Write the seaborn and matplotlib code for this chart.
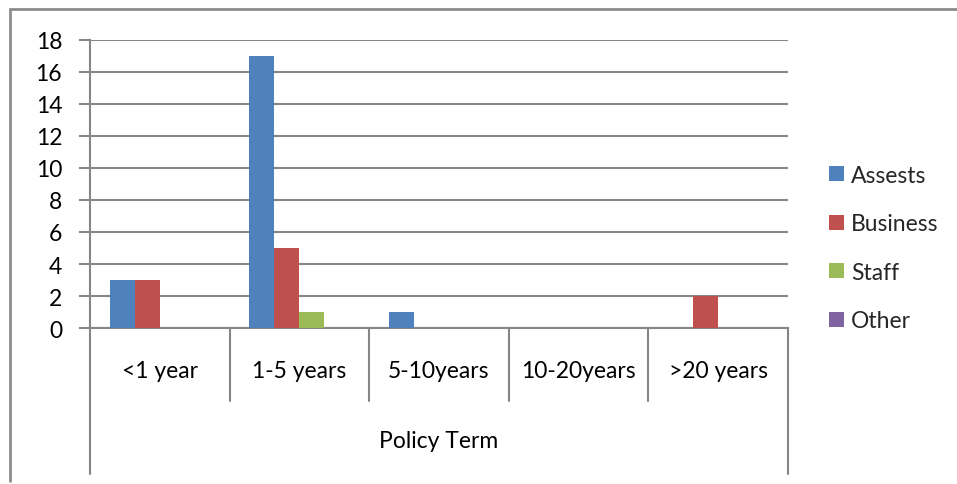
import matplotlib
matplotlib.use("Agg")
import matplotlib.pyplot as plt
from matplotlib.lines import Line2D
import seaborn as sns
import pandas as pd

categories = ["<1 year", "1-5 years", "5-10years", "10-20years", ">20 years"]
series = ["Assests", "Business", "Staff", "Other"]
assests = [3, 17, 1, 0, 0]
business = [3, 5, 0, 0, 2]
staff = [0, 1, 0, 0, 0]
other = [0, 0, 0, 0, 0]
y_ticks = [0, 2, 4, 6, 8, 10, 12, 14, 16, 18]
x_title = "Policy Term"

colors = ["#4F81BD", "#C0504D", "#9BBB59", "#8064A2"]
grid_gray = "#868686"

rows = []
for name, vals in zip(series, [assests, business, staff, other]):
    for cat, v in zip(categories, vals):
        rows.append({"term": cat, "series": name, "count": v})
df = pd.DataFrame(rows)

sns.set_theme(style="white")
plt.rcParams["font.family"] = ["Lato", "DejaVu Sans"]
FS = 16.5

W, H = 957, 485
fig = plt.figure(figsize=(W / 100, H / 100), dpi=100)
left, right, top, bottom = 90, 788, 41, 329
ax = fig.add_axes([left / W, 1 - bottom / H, (right - left) / W, (bottom - top) / H])

sns.barplot(data=df, x="term", y="count", hue="series", order=categories,
            hue_order=series, palette=colors, width=0.716, linewidth=0,
            saturation=1, ax=ax, legend=True, zorder=3)

ax.set_ylim(0, 18)
ax.set_xlim(-0.5, len(categories) - 0.5)
ax.set_yticks(y_ticks)
ax.set_yticklabels([str(t) for t in y_ticks], fontsize=FS, color="black")
ax.yaxis.grid(True, color=grid_gray, linewidth=1.5, zorder=0)
ax.set_axisbelow(True)
ax.tick_params(axis="y", length=8, width=1.5, color=grid_gray, pad=12, left=True)
ax.tick_params(axis="x", length=0, labelbottom=False)
for s in ["top", "right"]:
    ax.spines[s].set_visible(False)
for s in ["left", "bottom"]:
    ax.spines[s].set_color(grid_gray)
    ax.spines[s].set_linewidth(1.5)
ax.set_xlabel("")
ax.set_ylabel("")

# category label boxes below the plot
fig_h = bottom - top
def ax_y(py):
    return (bottom - py) / fig_h

n = len(categories)
for i in range(n + 1):
    x = i / n
    end = 475 if i in (0, n) else 402
    ax.add_line(Line2D([x, x], [0, ax_y(end)], transform=ax.transAxes,
                       color=grid_gray, linewidth=1.5, clip_on=False))
for i, cat in enumerate(categories):
    ax.text((i + 0.5) / n, ax_y(371), cat, transform=ax.transAxes,
            ha="center", va="center", fontsize=FS, color="black")
ax.text(0.5, ax_y(442), x_title, transform=ax.transAxes,
        ha="center", va="center", fontsize=FS, color="black")

# legend on the right
handles, labels = ax.get_legend_handles_labels()
ax.legend(handles, labels, loc="center left", bbox_to_anchor=(829 / W, 1 - 249 / H),
          bbox_transform=fig.transFigure, frameon=False, fontsize=FS,
          handlelength=0.65, handleheight=0.65, handletextpad=0.3,
          labelspacing=1.2, borderaxespad=0, borderpad=0)

# chart frame
fig.add_artist(Line2D([10 / W, 10 / W], [1 - 10 / H, 1 - 482 / H],
                      transform=fig.transFigure, color="#8c8c8c", linewidth=2))
fig.add_artist(Line2D([10 / W, 1], [1 - 10 / H, 1 - 10 / H],
                      transform=fig.transFigure, color="#8c8c8c", linewidth=2))

fig.savefig("out.png", dpi=100, facecolor="white")
